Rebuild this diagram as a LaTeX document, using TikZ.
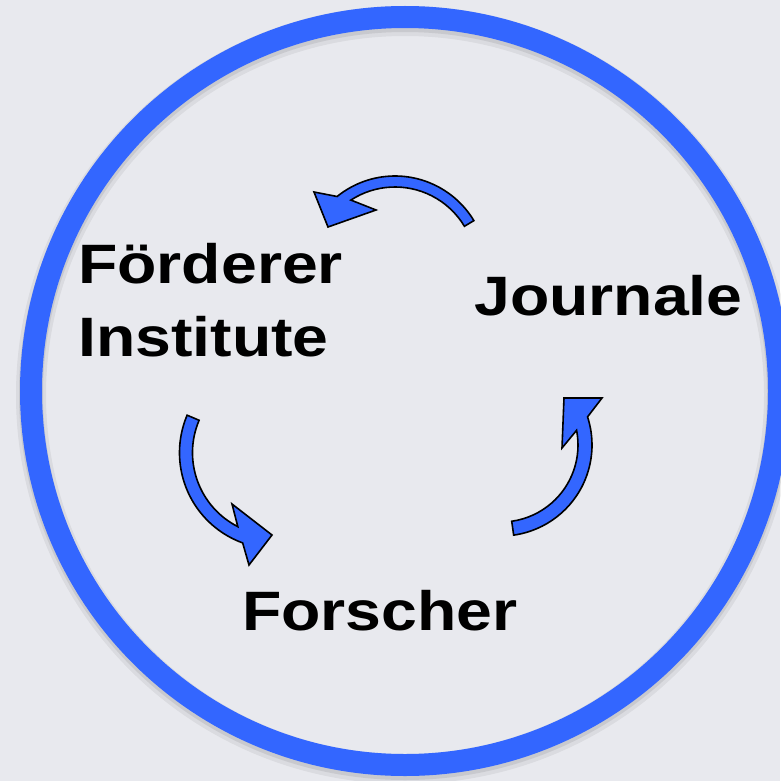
\documentclass[tikz,border=0pt]{standalone}
\usepackage{fontspec}
\setmainfont{Liberation Sans}
\usetikzlibrary{calc}
\definecolor{bg}{RGB}{232,233,238}
\definecolor{ringblue}{RGB}{51,102,255}
\newcommand{\widetxt}[1]{\scalebox{1.16}[1]{#1}}
\begin{document}
\begin{tikzpicture}[x=1pt,y=-1pt,
  lbl/.style={font=\fontsize{55.5}{60}\selectfont\bfseries, inner sep=0pt, anchor=base west, text=black},
  ring/.style={draw=ringblue, line width=22pt},
  curvearrow/.style={fill=ringblue, draw=black, line width=1.6pt, line join=miter}]
\useasboundingbox (0,0) rectangle (780,781);
\fill[bg] (0,0) rectangle (780,781);
% shadow of ring
\draw[black, opacity=0.06, line width=30pt] (405,395) circle[radius=374];
\draw[black, opacity=0.08, line width=24pt] (405,394) circle[radius=374];
\draw[ring] (405,391) circle[radius=374];
% centres of the curved arrows
\coordinate (C1) at (395,268);
\coordinate (C2) at (275.5,452.7);
\coordinate (C3) at (501,445);
% top arrow
\draw[curvearrow] ($(C1)+(-31:92)$) arc[start angle=-31, end angle=-129, radius=92]
  -- (314,192) -- (328,227) -- (376,210)
  -- ($(C1)+(-123:81)$) arc[start angle=-123, end angle=-31, radius=81] -- cycle;
% left arrow
\draw[curvearrow] ($(C2)+(-157:96)$) arc[start angle=-157, end angle=-250, radius=96]
  -- (249,565) -- (272,535) -- (232,504)
  -- ($(C2)+(-243:83)$) arc[start angle=-243, end angle=-157, radius=83] -- cycle;
% right arrow
\draw[curvearrow] ($(C3)+(82:91)$) arc[start angle=82, end angle=-18, radius=91]
  -- (602,398) -- (564,398) -- (562,448)
  -- ($(C3)+(-11:77)$) arc[start angle=-11, end angle=82, radius=77] -- cycle;
% labels
\node[lbl] (foerderer) at (78,283) {\widetxt{Förderer}};
\node[lbl] (institute) at (78,356) {\widetxt{Institute}};
\node[lbl] (journale) at (474,315) {\widetxt{Journale}};
\node[lbl] (forscher) at (242,630) {\widetxt{Forscher}};
\end{tikzpicture}
\end{document}
